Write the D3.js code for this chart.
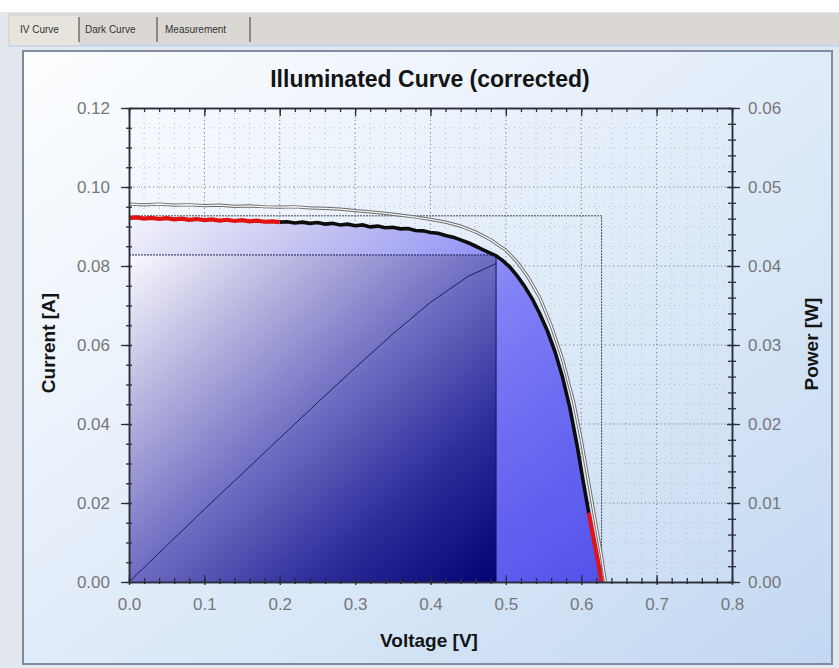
<!DOCTYPE html>
<html>
<head>
<meta charset="utf-8">
<script src="https://cdn.jsdelivr.net/npm/d3@7"></script>
<style>
  body { margin: 0; background: #e3e8ee; }
  svg { display: block; font-family: Arial, "Liberation Sans", sans-serif; }
</style>
</head>
<body>
<svg id="chart" width="839" height="668"></svg>
<script>
// corrected IV curve (black / red)
const ivVoltage = [0.000, 0.010, 0.020, 0.030, 0.040, 0.050, 0.060, 0.070, 0.080, 0.090,
  0.100, 0.110, 0.120, 0.130, 0.140, 0.150, 0.160, 0.170, 0.180, 0.190,
  0.200, 0.210, 0.220, 0.230, 0.240, 0.250, 0.260, 0.270, 0.280, 0.290,
  0.300, 0.310, 0.320, 0.330, 0.340, 0.350, 0.360, 0.370, 0.380, 0.390,
  0.400, 0.410, 0.420, 0.430, 0.440, 0.450, 0.460, 0.470, 0.480, 0.487,
  0.495, 0.505, 0.515, 0.525, 0.535, 0.545, 0.555, 0.565, 0.575, 0.585,
  0.595, 0.603, 0.610, 0.617, 0.622, 0.627];
const ivCurrent = [0.0921, 0.0923, 0.0920, 0.0922, 0.0919, 0.0921, 0.0918, 0.0920, 0.0917, 0.0919,
  0.0916, 0.0918, 0.0915, 0.0917, 0.0914, 0.0916, 0.0913, 0.0915, 0.0912, 0.0913,
  0.0911, 0.0912, 0.0909, 0.0911, 0.0908, 0.0910, 0.0906, 0.0908, 0.0904, 0.0906,
  0.0902, 0.0904, 0.0899, 0.0901, 0.0897, 0.0898, 0.0894, 0.0895, 0.0890, 0.0889,
  0.0885, 0.0883, 0.0877, 0.0873, 0.0866, 0.0859, 0.0850, 0.0841, 0.0832, 0.0826,
  0.0815, 0.0798, 0.0775, 0.0748, 0.0717, 0.0679, 0.0636, 0.0584, 0.0520, 0.0440,
  0.0340, 0.0250, 0.0175, 0.0105, 0.0055, 0.0000];

// uncorrected measurement (grey)
const rawVoltage = [0.00, 0.02, 0.04, 0.06, 0.08, 0.10, 0.12, 0.14, 0.16, 0.18,
  0.20, 0.22, 0.24, 0.26, 0.28, 0.30, 0.32, 0.34, 0.36, 0.38,
  0.40, 0.42, 0.44, 0.46, 0.48, 0.50, 0.515, 0.53, 0.545, 0.56,
  0.575, 0.59, 0.60, 0.61, 0.62, 0.627, 0.632];
const rawCurrent = [0.0957, 0.0955, 0.0957, 0.0954, 0.0955, 0.0953, 0.0954, 0.0951, 0.0952, 0.0950,
  0.0949, 0.0950, 0.0947, 0.0946, 0.0944, 0.0940, 0.0937, 0.0933, 0.0929, 0.0924,
  0.0918, 0.0911, 0.0901, 0.0886, 0.0866, 0.0840, 0.0810, 0.0770, 0.0720, 0.0650,
  0.0565, 0.0455, 0.0360, 0.0250, 0.0140, 0.0065, 0.0000];

// power curve up to the MPP
const powerVoltage = [0, 0.05, 0.10, 0.15, 0.20, 0.25, 0.30, 0.35, 0.40, 0.45, 0.487];
const powerWatt = [0, 0.0046, 0.0092, 0.0137, 0.0182, 0.0227, 0.0271, 0.0314, 0.0354, 0.0387, 0.0403];

const mppVoltage = 0.487;
const mppCurrent = 0.0828;
const iscCurrent = 0.0927;
const vocVoltage = 0.627;

const xTicks = [0, 0.1, 0.2, 0.3, 0.4, 0.5, 0.6, 0.7, 0.8];
const xTickLabels = ["0.0", "0.1", "0.2", "0.3", "0.4", "0.5", "0.6", "0.7", "0.8"];
const yTicks = [0, 0.02, 0.04, 0.06, 0.08, 0.10, 0.12];
const yTickLabels = ["0.00", "0.02", "0.04", "0.06", "0.08", "0.10", "0.12"];
const pTicks = [0, 0.01, 0.02, 0.03, 0.04, 0.05, 0.06];
const pTickLabels = ["0.00", "0.01", "0.02", "0.03", "0.04", "0.05", "0.06"];
const tabs = ["IV Curve", "Dark Curve", "Measurement"];

const svg = d3.select("#chart");
const defs = svg.append("defs");

function addGradient(id, stops) {
  const g = defs.append("linearGradient")
    .attr("id", id)
    .attr("x1", 0).attr("y1", 0).attr("x2", 1).attr("y2", 1);
  stops.forEach(function(s) {
    g.append("stop").attr("offset", s[0]).attr("stop-color", s[1]);
  });
}
addGradient("panelGrad", [[0, "#fdfeff"], [0.5, "#e1ecf9"], [1, "#c2d8f2"]]);
addGradient("areaGrad", [[0, "#f4f4fc"], [0.2, "#c8c8f2"], [0.5, "#8282f6"], [0.7, "#6c6cf2"], [1, "#5252ec"]]);
addGradient("mppGrad", [[0, "#fafafe"], [0.25, "#b4b2de"], [0.5, "#6e6cc1"], [0.75, "#2e2c9b"], [1, "#020274"]]);

// window chrome + tabs
svg.append("rect").attr("width", 839).attr("height", 12).attr("fill", "#ffffff");
svg.append("rect").attr("x", 8).attr("y", 13).attr("width", 831).attr("height", 32).attr("fill", "#dbd8d3");
svg.append("rect").attr("x", 8).attr("y", 44).attr("width", 831).attr("height", 3).attr("fill", "#cbd8ea");
const tabX = [20, 85, 165];
const sepX = [79, 157, 250];
svg.append("rect").attr("x", 10).attr("y", 16).attr("width", 69).attr("height", 29).attr("fill", "#e6e4dc");
svg.selectAll(".tab")
  .data(tabs)
  .join("text")
  .attr("class", "tab")
  .attr("x", function(d, i) { return tabX[i]; })
  .attr("y", 33)
  .attr("font-size", 10)
  .attr("fill", "#333")
  .text(function(d) { return d; });
svg.selectAll(".tabsep")
  .data(sepX)
  .join("line")
  .attr("class", "tabsep")
  .attr("x1", function(d) { return d; })
  .attr("x2", function(d) { return d; })
  .attr("y1", 17).attr("y2", 42)
  .attr("stroke", "#555").attr("stroke-width", 1.2);

// chart panel
svg.append("rect")
  .attr("x", 23).attr("y", 51).attr("width", 809).attr("height", 613)
  .attr("fill", "url(#panelGrad)")
  .attr("stroke", "#7f8da2").attr("stroke-width", 2);

const x = d3.scaleLinear().domain([0, 0.8]).range([129, 732]);
const y = d3.scaleLinear().domain([0, 0.12]).range([582, 108]);
const yP = d3.scaleLinear().domain([0, 0.06]).range([582, 108]);

// grid
const grid = svg.append("g");
grid.selectAll(".vminor")
  .data(d3.range(0.02, 0.8, 0.02))
  .join("line")
  .attr("x1", function(d) { return x(d); })
  .attr("x2", function(d) { return x(d); })
  .attr("y1", y(0.12)).attr("y2", y(0))
  .attr("stroke", "#b3c0d2").attr("stroke-width", 1).attr("stroke-dasharray", "1,4");
grid.selectAll(".hminor")
  .data(d3.range(0.005, 0.12, 0.005))
  .join("line")
  .attr("x1", x(0)).attr("x2", x(0.8))
  .attr("y1", function(d) { return y(d); })
  .attr("y2", function(d) { return y(d); })
  .attr("stroke", "#b3c0d2").attr("stroke-width", 1).attr("stroke-dasharray", "1,4");
grid.selectAll(".vmajor")
  .data(xTicks.slice(1, -1))
  .join("line")
  .attr("x1", function(d) { return x(d); })
  .attr("x2", function(d) { return x(d); })
  .attr("y1", y(0.12)).attr("y2", y(0))
  .attr("stroke", "#7c8594").attr("stroke-width", 1).attr("stroke-dasharray", "1,3");
grid.selectAll(".hmajor")
  .data(yTicks.slice(1, -1))
  .join("line")
  .attr("x1", x(0)).attr("x2", x(0.8))
  .attr("y1", function(d) { return y(d); })
  .attr("y2", function(d) { return y(d); })
  .attr("stroke", "#7c8594").attr("stroke-width", 1).attr("stroke-dasharray", "1,3");

const ivData = ivVoltage.map(function(v, i) { return { v: v, i: ivCurrent[i] }; });
const rawData = rawVoltage.map(function(v, i) { return { v: v, i: rawCurrent[i] }; });
const powerData = powerVoltage.map(function(v, i) { return { v: v, p: powerWatt[i] }; });

// filled area under the corrected curve
const area = d3.area()
  .x(function(d) { return x(d.v); })
  .y0(y(0))
  .y1(function(d) { return y(d.i); });
svg.append("path").datum(ivData).attr("d", area).attr("fill", "url(#areaGrad)");

// MPP rectangle
svg.append("rect")
  .attr("x", x(0)).attr("y", y(mppCurrent))
  .attr("width", x(mppVoltage) - x(0))
  .attr("height", y(0) - y(mppCurrent))
  .attr("fill", "url(#mppGrad)");
svg.append("line")
  .attr("x1", x(0)).attr("x2", x(mppVoltage))
  .attr("y1", y(mppCurrent)).attr("y2", y(mppCurrent))
  .attr("stroke", "#1c1c5c").attr("stroke-width", 1).attr("stroke-dasharray", "2,1");
svg.append("line")
  .attr("x1", x(mppVoltage)).attr("x2", x(mppVoltage))
  .attr("y1", y(mppCurrent)).attr("y2", y(0))
  .attr("stroke", "#14145a").attr("stroke-width", 1);

// Isc / Voc box
svg.append("polyline")
  .attr("points", [[x(0), y(iscCurrent)], [x(vocVoltage), y(iscCurrent)], [x(vocVoltage), y(0)]].join(" "))
  .attr("fill", "none")
  .attr("stroke", "#3c4150").attr("stroke-width", 1).attr("stroke-dasharray", "2,1");

const line = d3.line()
  .x(function(d) { return x(d.v); })
  .y(function(d) { return y(d.i); });

// grey raw curve, drawn as a hollow line
svg.append("path").datum(rawData).attr("d", line)
  .attr("fill", "none").attr("stroke", "#6c6c6c").attr("stroke-width", 3.2);
svg.append("path").datum(rawData).attr("d", line)
  .attr("fill", "none").attr("stroke", "#f3f3f3").attr("stroke-width", 1.3);

// corrected curve, red at the fit regions
svg.append("path")
  .datum(ivData.filter(function(d) { return d.v >= 0.2 && d.v <= 0.61; }))
  .attr("d", line)
  .attr("fill", "none").attr("stroke", "#0d0d0d").attr("stroke-width", 3.6);
svg.selectAll(".fit")
  .data([
    ivData.filter(function(d) { return d.v <= 0.2; }),
    ivData.filter(function(d) { return d.v >= 0.61; })
  ])
  .join("path")
  .attr("class", "fit")
  .attr("d", line)
  .attr("fill", "none").attr("stroke", "#e01212").attr("stroke-width", 4.2);

// power curve
const powerLine = d3.line()
  .x(function(d) { return x(d.v); })
  .y(function(d) { return yP(d.p); });
svg.append("path").datum(powerData).attr("d", powerLine)
  .attr("fill", "none").attr("stroke", "#1e1e5e").attr("stroke-width", 1);

// axes
function styleAxis(g) {
  g.select(".domain").attr("stroke", "#2a2d3a").attr("stroke-width", 1.5);
  g.selectAll(".tick line").attr("stroke", "#2a2d3a").attr("stroke-width", 1.3);
  g.selectAll(".tick text")
    .attr("fill", "#777777")
    .attr("font-size", 17)
    .attr("font-family", "Arial, 'Liberation Sans', sans-serif");
}

const minorX = d3.range(0, 0.8001, 0.02);
const minorY = d3.range(0, 0.1201, 0.005);
const minorP = d3.range(0, 0.0601, 0.002);

svg.append("g").attr("transform", `translate(0,${y(0.12)})`)
  .call(d3.axisTop(x).tickValues(minorX).tickSize(-4).tickSizeOuter(0).tickFormat(""))
  .call(styleAxis);
svg.append("g").attr("transform", `translate(0,${y(0.12)})`)
  .call(d3.axisTop(x).tickValues(xTicks).tickSize(-8).tickSizeOuter(0).tickFormat(""))
  .call(styleAxis);

svg.append("g").attr("transform", `translate(0,${y(0)})`)
  .call(d3.axisBottom(x).tickValues(minorX).tickSize(-4).tickSizeOuter(0).tickFormat(""))
  .call(styleAxis)
  .selectAll(".tick line").attr("y1", 2);
const xAxis = svg.append("g").attr("transform", `translate(0,${y(0)})`)
  .call(d3.axisBottom(x).tickValues(xTicks).tickSize(-7).tickSizeOuter(0).tickPadding(16)
    .tickFormat(function(d, i) { return xTickLabels[i]; }))
  .call(styleAxis);
xAxis.selectAll(".tick line").attr("y1", 3);

svg.append("g").attr("transform", `translate(${x(0)},0)`)
  .call(d3.axisLeft(y).tickValues(minorY).tickSize(3).tickSizeOuter(0).tickFormat(""))
  .call(styleAxis)
  .selectAll(".tick line").attr("x1", 3);
const yAxis = svg.append("g").attr("transform", `translate(${x(0)},0)`)
  .call(d3.axisLeft(y).tickValues(yTicks).tickSize(8).tickSizeOuter(0).tickPadding(11)
    .tickFormat(function(d, i) { return yTickLabels[i]; }))
  .call(styleAxis);
yAxis.selectAll(".tick line").attr("x1", 3);

svg.append("g").attr("transform", `translate(${x(0.8)},0)`)
  .call(d3.axisRight(yP).tickValues(minorP).tickSize(4).tickSizeOuter(0).tickFormat(""))
  .call(styleAxis)
  .selectAll(".tick line").attr("x1", -4);
const pAxis = svg.append("g").attr("transform", `translate(${x(0.8)},0)`)
  .call(d3.axisRight(yP).tickValues(pTicks).tickSize(8).tickSizeOuter(0).tickPadding(8)
    .tickFormat(function(d, i) { return pTickLabels[i]; }))
  .call(styleAxis);
pAxis.selectAll(".tick line").attr("x1", -5);

// titles
svg.append("text")
  .attr("x", 430).attr("y", 87)
  .attr("text-anchor", "middle")
  .attr("font-size", 23).attr("font-weight", "bold").attr("fill", "#141414")
  .text("Illuminated Curve (corrected)");
svg.append("text")
  .attr("x", 429).attr("y", 647)
  .attr("text-anchor", "middle")
  .attr("font-size", 19).attr("font-weight", "bold").attr("fill", "#141414")
  .text("Voltage [V]");
svg.append("text")
  .attr("transform", "translate(55,343) rotate(-90)")
  .attr("text-anchor", "middle")
  .attr("font-size", 19).attr("font-weight", "bold").attr("fill", "#141414")
  .text("Current [A]");
svg.append("text")
  .attr("transform", "translate(818,344) rotate(-90)")
  .attr("text-anchor", "middle")
  .attr("font-size", 19).attr("font-weight", "bold").attr("fill", "#141414")
  .text("Power [W]");
</script>
</body>
</html>
